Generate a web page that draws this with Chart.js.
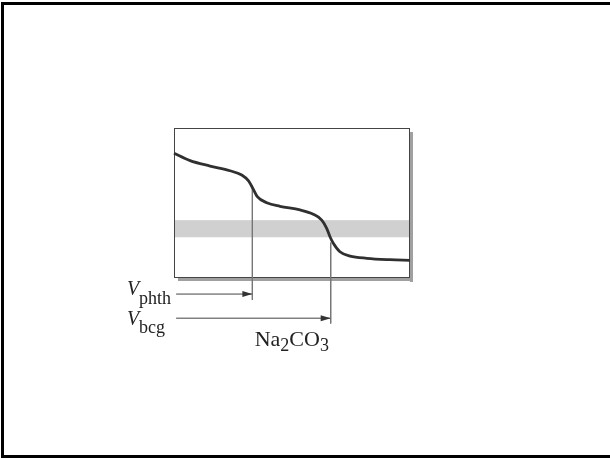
<!DOCTYPE html>
<html>
<head>
<meta charset="utf-8">
<script src="https://cdn.jsdelivr.net/npm/chart.js@4"></script>
<style>
  html, body { margin: 0; padding: 0; background: #fff; }
  canvas { display: block; }
</style>
</head>
<body>
<canvas id="bieuDo" width="610" height="459"></canvas>
<script>
// the volume of acid added (arbitrary units) and the pH
const theTich = [0, 6.8, 15.3, 23.7, 28.7, 31.5, 33.4, 35.3, 39.3, 44.9, 53.4, 59, 62.6, 64.7, 66.1, 67.5, 70.3, 74.6, 81.7, 91.5, 100];
const pH = [11.64, 10.95, 10.45, 10.01, 9.61, 9.08, 8.37, 7.59, 7.03, 6.69, 6.35, 5.95, 5.41, 4.64, 3.85, 3.24, 2.45, 2.05, 1.84, 1.71, 1.65];

// the two end points: phenolphthalein and bromocresol green
const diemTuongDuong = [33.2, 66.4];
const pHTaiDiem = [8.4, 3.3];
// bromocresol green colour change range
const vungBCG = [3.8, 5.4];

const gioiHanX = [0, 100];
const gioiHanY = [0, 14];

const duongCong = theTich.map((v, i) => ({ x: v, y: pH[i] }));

// vertical lines down from each end point, and the arrows that reach them
const doc1 = [{ x: diemTuongDuong[0], y: pHTaiDiem[0] }, { x: diemTuongDuong[0], y: -2.05 }];
const doc2 = [{ x: diemTuongDuong[1], y: pHTaiDiem[1] }, { x: diemTuongDuong[1], y: -4.25 }];
const mui1 = [{ x: 0.9, y: -1.5 }, { x: diemTuongDuong[0], y: -1.5 }];
const mui2 = [{ x: 0.9, y: -3.75 }, { x: diemTuongDuong[1], y: -3.75 }];

const khungHinh = {
    id: 'khungHinh',
    beforeDatasetsDraw(chart) {
        const { ctx, chartArea: a, scales } = chart;
        const yTren = scales.y.getPixelForValue(vungBCG[1]);
        const yDuoi = scales.y.getPixelForValue(vungBCG[0]);
        ctx.save();
        // shadow right and bottom
        ctx.fillStyle = '#a0a0a0';
        ctx.fillRect(a.right, a.top + 4, 3, a.bottom - a.top);
        ctx.fillRect(a.left + 4, a.bottom, a.right - a.left - 1, 3);
        // band
        ctx.fillStyle = '#d0d0d0';
        ctx.fillRect(a.left, yTren, a.right - a.left, yDuoi - yTren);
        ctx.strokeStyle = '#444';
        ctx.lineWidth = 1;
        ctx.strokeRect(a.left + 0.5, a.top + 0.5, a.right - a.left - 1, a.bottom - a.top - 1);
        ctx.restore();
    },
    afterDatasetsDraw(chart) {
        // arrow heads (points outside the chart area are not drawn by the library)
        const ctx = chart.ctx;
        ctx.save();
        ctx.fillStyle = '#333';
        [3, 4].forEach(i => {
            const p = chart.getDatasetMeta(i).data[1];
            ctx.beginPath();
            ctx.moveTo(p.x, p.y);
            ctx.lineTo(p.x - 10, p.y - 3);
            ctx.lineTo(p.x - 10, p.y + 3);
            ctx.closePath();
            ctx.fill();
        });
        ctx.restore();
    },
    afterDraw(chart) {
        const { ctx, scales } = chart;
        const sx = scales.x, sy = scales.y;
        ctx.save();
        // page frame
        ctx.fillStyle = '#000';
        ctx.fillRect(1, 2, 3, 455);
        ctx.fillRect(1, 2, 609, 3);
        ctx.fillRect(1, 455, 609, 3);

        ctx.fillStyle = '#222';
        ctx.textBaseline = 'alphabetic';
        const chuV = 'italic 20px "Liberation Serif"';
        const chuNho = '18px "Liberation Serif"';
        const x0 = 127;

        let y = sy.getPixelForValue(-1.5) + 1;
        ctx.font = chuV;
        ctx.fillText('V', x0, y);
        ctx.font = chuNho;
        ctx.fillText('phth', x0 + 12, y + 9);

        y = sy.getPixelForValue(-3.75) + 7;
        ctx.font = chuV;
        ctx.fillText('V', x0, y);
        ctx.font = chuNho;
        ctx.fillText('bcg', x0 + 12, y + 8);

        // Na2CO3 under the second line
        const chuTo = '22px "Liberation Serif"';
        let x = sx.getPixelForValue(diemTuongDuong[1]) - 76;
        y = 346;
        ctx.font = chuTo;
        ctx.fillText('Na', x, y);
        x += ctx.measureText('Na').width;
        ctx.font = chuNho;
        ctx.fillText('2', x, y + 5);
        x += ctx.measureText('2').width;
        ctx.font = chuTo;
        ctx.fillText('CO', x, y);
        x += ctx.measureText('CO').width;
        ctx.font = chuNho;
        ctx.fillText('3', x, y + 5);
        ctx.restore();
    }
};

function duongThang(data, mau) {
    return {
        data: data,
        borderColor: mau,
        backgroundColor: mau,
        borderWidth: 1,
        clip: false,
        pointRadius: 0
    };
}

new Chart(document.getElementById('bieuDo'), {
    type: 'line',
    data: {
        datasets: [
            {
                data: duongCong,
                borderColor: '#303030',
                borderWidth: 2.8,
                pointRadius: 0,
                cubicInterpolationMode: 'monotone',
                clip: false
            },
            duongThang(doc1, '#777'),
            duongThang(doc2, '#777'),
            duongThang(mui1, '#444'),
            duongThang(mui2, '#444')
        ]
    },
    options: {
        responsive: false,
        animation: false,
        layout: { padding: { left: 174, top: 128, right: 200, bottom: 181 } },
        scales: {
            x: { type: 'linear', min: gioiHanX[0], max: gioiHanX[1], display: false },
            y: { type: 'linear', min: gioiHanY[0], max: gioiHanY[1], display: false }
        },
        plugins: {
            legend: { display: false },
            tooltip: { enabled: false }
        }
    },
    plugins: [khungHinh]
});
</script>
</body>
</html>
